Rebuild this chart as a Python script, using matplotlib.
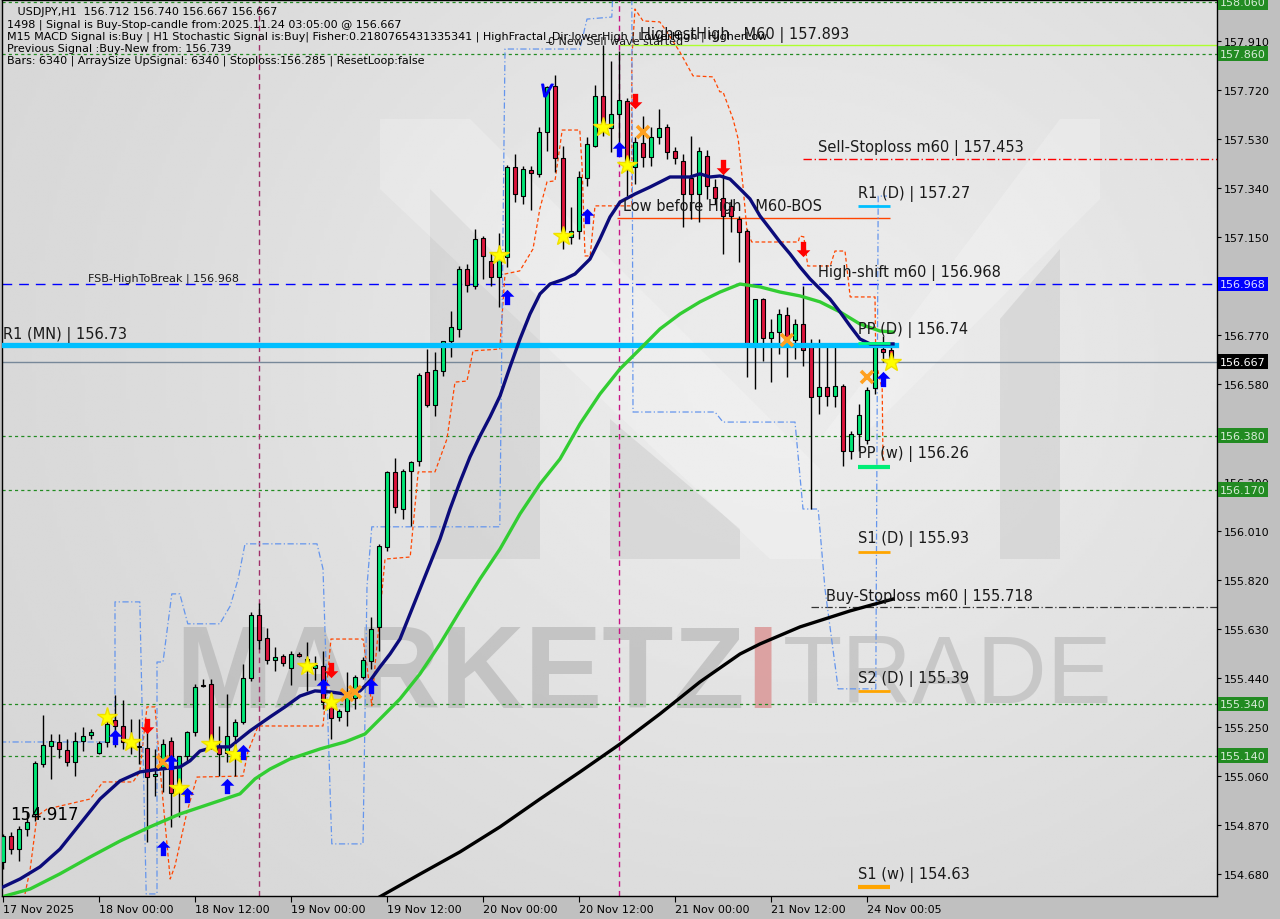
import matplotlib
matplotlib.use("Agg")
import matplotlib.pyplot as plt
import numpy as np
from matplotlib.patches import Polygon

# USDJPY H1 candles, 17 Nov 12:00 -> 24 Nov 03:00 (weekend removed)
opens = [154.728, 154.829, 154.778, 154.856, 154.914, 155.108, 155.178, 155.193, 155.162, 155.116,
         155.197, 155.220, 155.150, 155.193, 155.278, 155.255, 155.193, 155.174, 155.170, 155.061,
         155.088, 155.197, 155.023, 155.139, 155.232, 155.414, 155.418, 155.178, 155.150, 155.216,
         155.271, 155.441, 155.685, 155.596, 155.511, 155.527, 155.480, 155.534, 155.492, 155.480,
         155.488, 155.333, 155.290, 155.313, 155.364, 155.445, 155.507, 155.639, 155.949, 156.240,
         156.096, 156.244, 156.282, 156.627, 156.499, 156.631, 156.747, 156.794, 157.027, 156.961,
         157.147, 157.058, 156.996, 157.073, 157.422, 157.309, 157.410, 157.395, 157.558, 157.736,
         157.457, 157.151, 157.174, 157.379, 157.503, 157.697, 157.573, 157.627, 157.678, 157.422,
         157.515, 157.461, 157.538, 157.577, 157.484, 157.445, 157.379, 157.317, 157.465, 157.344,
         157.302, 157.271, 157.220, 157.174, 156.736, 156.910, 156.759, 156.782, 156.848, 156.751,
         156.813, 156.728, 156.534, 156.569, 156.534, 156.573, 156.321, 156.387, 156.364, 156.565,
         156.716, 156.712]
highs = [154.837, 154.844, 154.868, 154.922, 155.120, 155.298, 155.224, 155.224, 155.205, 155.232,
         155.251, 155.244, 155.197, 155.290, 155.375, 155.356, 155.282, 155.282, 155.236, 155.166,
         155.205, 155.212, 155.139, 155.236, 155.418, 155.437, 155.437, 155.255, 155.379, 155.282,
         155.495, 155.697, 155.732, 155.635, 155.561, 155.534, 155.546, 155.542, 155.581, 155.527,
         155.546, 155.379, 155.321, 155.464, 155.453, 155.523, 155.678, 155.961, 156.244, 156.294,
         156.251, 156.282, 156.623, 156.716, 156.705, 156.747, 156.864, 157.038, 157.046, 157.182,
         157.154, 157.092, 157.166, 157.430, 157.472, 157.426, 157.426, 157.577, 157.736, 157.778,
         157.503, 157.267, 157.406, 157.538, 157.740, 157.893, 157.833, 157.871, 157.690, 157.538,
         157.620, 157.577, 157.647, 157.589, 157.499, 157.472, 157.542, 157.499, 157.488, 157.375,
         157.395, 157.298, 157.232, 157.180, 156.910, 156.915, 156.833, 156.871, 156.879, 156.833,
         156.961, 156.755, 156.755, 156.728, 156.728, 156.581, 156.399, 156.503, 156.569, 156.736,
         156.767, 156.740]
lows = [154.701, 154.759, 154.732, 154.829, 154.887, 155.096, 155.050, 155.131, 155.100, 155.061,
        155.158, 155.205, 155.147, 155.174, 155.174, 155.166, 155.147, 155.108, 154.805, 154.984,
        154.999, 154.864, 154.902, 155.120, 155.216, 155.406, 155.166, 155.061, 155.116, 155.061,
        155.263, 155.430, 155.554, 155.495, 155.468, 155.488, 155.414, 155.523, 155.391, 155.433,
        155.321, 155.205, 155.275, 155.255, 155.321, 155.437, 155.476, 155.546, 155.933, 156.081,
        156.058, 156.030, 156.263, 156.492, 156.457, 156.612, 156.685, 156.763, 156.937, 156.949,
        156.988, 156.961, 156.879, 157.034, 157.286, 157.278, 157.255, 157.383, 157.484, 157.403,
        157.104, 157.123, 157.143, 157.348, 157.499, 157.542, 157.480, 157.465, 157.309, 157.356,
        157.422, 157.426, 157.511, 157.453, 157.433, 157.189, 157.220, 157.209, 157.298, 157.278,
        157.085, 157.170, 157.054, 156.608, 156.561, 156.670, 156.588, 156.697, 156.608, 156.678,
        156.651, 156.096, 156.465, 156.496, 156.492, 156.263, 156.290, 156.321, 156.348, 156.542,
        156.666, 156.667]
closes = [154.829, 154.778, 154.856, 154.883, 155.112, 155.182, 155.197, 155.166, 155.116, 155.197,
          155.216, 155.232, 155.189, 155.263, 155.255, 155.193, 155.174, 155.176, 155.057, 155.069,
          155.185, 154.995, 155.139, 155.232, 155.406, 155.410, 155.178, 155.147, 155.216, 155.271,
          155.441, 155.685, 155.588, 155.511, 155.523, 155.499, 155.534, 155.527, 155.515, 155.492,
          155.348, 155.286, 155.313, 155.368, 155.445, 155.511, 155.631, 155.953, 156.240, 156.104,
          156.244, 156.278, 156.616, 156.499, 156.635, 156.747, 156.802, 157.027, 156.965, 157.143,
          157.077, 156.996, 157.065, 157.422, 157.317, 157.414, 157.399, 157.558, 157.732, 157.457,
          157.174, 157.174, 157.383, 157.511, 157.697, 157.577, 157.627, 157.681, 157.422, 157.519,
          157.461, 157.538, 157.573, 157.480, 157.457, 157.317, 157.317, 157.484, 157.348, 157.302,
          157.232, 157.232, 157.170, 156.736, 156.910, 156.759, 156.782, 156.852, 156.751, 156.813,
          156.713, 156.530, 156.569, 156.534, 156.573, 156.321, 156.387, 156.461, 156.557, 156.724,
          156.705, 156.667]

tick_bars = [0, 12, 24, 36, 48, 60, 72, 84, 96, 108]
tick_labels = ["17 Nov 2025", "18 Nov 00:00", "18 Nov 12:00", "19 Nov 00:00", "19 Nov 12:00",
               "20 Nov 00:00", "20 Nov 12:00", "21 Nov 00:00", "21 Nov 12:00", "24 Nov 00:05"]
price_ticks = [157.910, 157.720, 157.530, 157.340, 157.150, 156.770, 156.580, 156.200,
               156.010, 155.820, 155.630, 155.440, 155.250, 155.060, 154.870, 154.680]

# moving averages (read at sample bars)
navy_x = [0, 2.125, 4.625, 7.125, 9.625, 12.125, 14.625, 17.125, 19.625, 22.125, 23.375, 24.625,
          26.5, 28.375, 29.625, 30.875, 32.125, 33.375, 35.25, 37.125, 39, 40.875, 42.75, 44.625,
          45.875, 47.125, 48.375, 49.625, 50.875, 52.125, 53.375, 54.625, 55.875, 57.125, 58.375,
          59.625, 60.875, 62.125, 63.375, 64.625, 65.875, 67.125, 68.375, 70.25, 71.5, 73.375,
          74.625, 75.875, 77.125, 79, 80.875, 83.375, 85.875, 87.125, 88.375, 89.625, 90.875,
          92.125, 93.375, 94.625, 95.875, 97.125, 98.375, 99.625, 100.875, 102.125, 103.375,
          104.625, 105.875, 107.125, 108.375, 111.25]
navy_y = [154.631, 154.662, 154.709, 154.778, 154.875, 154.972, 155.042, 155.077, 155.088, 155.096,
          155.120, 155.158, 155.174, 155.174, 155.205, 155.236, 155.263, 155.290, 155.329, 155.371,
          155.391, 155.387, 155.379, 155.391, 155.430, 155.484, 155.534, 155.592, 155.689, 155.786,
          155.883, 155.980, 156.096, 156.201, 156.298, 156.379, 156.453, 156.534, 156.647, 156.755,
          156.852, 156.930, 156.968, 156.988, 157.007, 157.065, 157.143, 157.228, 157.286, 157.317,
          157.344, 157.383, 157.383, 157.395, 157.383, 157.387, 157.375, 157.337, 157.298, 157.232,
          157.182, 157.131, 157.085, 157.034, 156.988, 156.949, 156.910, 156.860, 156.806, 156.755,
          156.736, 156.736]
green_x = [0.25, 3.375, 7.125, 10.875, 14.625, 18.375, 22.125, 25.875, 29.625, 31.5, 33.375, 35.875,
           39.625, 42.75, 45.25, 47.125, 49.625, 52.125, 54.625, 57.125, 59.625, 62.125, 64.625,
           67.125, 69.625, 72.125, 74.625, 77.125, 79.625, 82.125, 84.625, 87.125, 89.625, 92.125,
           94.625, 97.125, 99.625, 102.125, 104.625, 107.125, 109.625, 111.25]
green_y = [154.596, 154.623, 154.682, 154.747, 154.809, 154.864, 154.914, 154.953, 154.992, 155.050,
           155.088, 155.127, 155.166, 155.193, 155.224, 155.282, 155.360, 155.457, 155.573, 155.701,
           155.825, 155.941, 156.077, 156.193, 156.290, 156.426, 156.542, 156.639, 156.716, 156.794,
           156.852, 156.899, 156.937, 156.968, 156.957, 156.937, 156.922, 156.899, 156.860, 156.813,
           156.786, 156.782]
black_x = [45.5, 52.125, 57.125, 62.125, 67.125, 72.125, 77.125, 82.125, 87.125, 92.125, 94.625,
           99.625, 105.875, 111.25]
black_y = [154.565, 154.681, 154.767, 154.864, 154.972, 155.077, 155.185, 155.302, 155.426, 155.534,
           155.573, 155.639, 155.701, 155.747]

# fractal channel lines
hi_x = [2.75, 3.4, 4.25, 5.5, 10.9, 12.5, 16.25, 17.1, 18, 19, 19.6, 20.9, 21.5, 23, 24.25, 30, 30.6,
        31.9, 40, 41, 45, 45.5, 46.1, 46.5, 46.9, 47.75, 50.9, 51.9, 54, 55.5, 56.5, 58, 58.75, 62.1,
        62.75, 64.6, 66.25, 67.1, 68, 69, 69.9, 72.1, 72.4, 72.75, 73.4, 74, 78.6, 78.6, 79, 80, 82.1,
        83, 84.6, 86.25, 88.75, 89.6, 90, 91.25, 91.9, 92.5, 93, 93.6, 99.4, 99.6, 100.1, 100.6,
        103.4, 104, 105.25, 105.9, 109, 109.1, 109.9, 110]
hi_y = [154.604, 154.701, 154.906, 154.933, 154.972, 155.038, 155.038, 155.077, 155.329, 155.329,
        155.100, 154.662, 154.713, 154.922, 155.057, 155.061, 155.154, 155.255, 155.255, 155.592,
        155.592, 155.488, 155.333, 155.488, 155.619, 155.902, 155.910, 156.240, 156.240, 156.368,
        156.588, 156.592, 156.709, 156.716, 157.007, 157.019, 157.104, 157.259, 157.364, 157.368,
        157.565, 157.565, 157.414, 157.077, 157.077, 157.271, 157.271, 157.840, 158.034, 157.988,
        157.984, 157.945, 157.868, 157.775, 157.771, 157.713, 157.713, 157.608, 157.530, 157.348,
        157.174, 157.131, 157.131, 157.154, 157.151, 157.038, 157.038, 157.096, 157.096, 156.918,
        156.918, 156.666, 156.561, 156.278]
lo_x = [-0.375, 14, 14, 17.1, 17.9, 19.25, 19.25, 20, 21.1, 22.1, 23.1, 27.1, 28.4, 29.4, 30.25,
        39.25, 40, 41.1, 45, 45.5, 46.1, 62.1, 62.75, 72.1, 73, 76.1, 76.25, 78.6, 78.75, 89, 90, 99,
        100, 101.9, 102.75, 104.4, 109.1, 109.4, 110.5]
lo_y = [155.193, 155.193, 155.736, 155.736, 154.604, 154.604, 155.503, 155.503, 155.767, 155.767,
        155.651, 155.651, 155.720, 155.825, 155.961, 155.961, 155.864, 154.798, 154.798, 155.798,
        156.027, 156.027, 157.879, 157.879, 157.995, 158.003, 158.112, 158.112, 156.472, 156.472,
        156.433, 156.433, 156.096, 156.096, 155.786, 155.399, 155.399, 157.309, 157.309]

# levels
green_levels = [158.060, 157.860, 156.380, 156.170, 155.340, 155.140]
fsb_level = 156.968
r1_mn = 156.73
last_price = 156.667
sell_sl = 157.453
buy_sl = 155.718
low_before_high = 157.224
highest_high = 157.893
pivot_names = ["R1 (D)", "PP (D)", "PP (w)", "S1 (D)", "S2 (D)", "S1 (w)"]
pivot_values = [157.27, 156.74, 156.26, 155.93, 155.39, 154.63]

# signal markers
star_bars = [13, 16, 22, 26, 29, 38, 41, 62, 70, 75, 78, 111]
star_prices = [155.290, 155.193, 155.015, 155.185, 155.147, 155.488, 155.348, 157.081, 157.155,
               157.577, 157.430, 156.666]
up_bars = [14, 20, 21, 23, 28, 30, 40, 46, 63, 73, 77, 110]
up_prices = [155.213, 154.782, 155.116, 154.988, 155.023, 155.155, 155.410, 155.410, 156.918,
             157.232, 157.492, 156.600]
down_bars = [18, 41, 79, 90, 100]
down_prices = [155.255, 155.472, 157.678, 157.422, 157.104]
cross_bars = [20, 43, 44, 80, 98, 108]
cross_prices = [155.116, 155.375, 155.387, 157.558, 156.751, 156.608]

info_lines = [
    "   USDJPY,H1  156.712 156.740 156.667 156.667",
    "1498 | Signal is Buy-Stop-candle from:2025.11.24 03:05:00 @ 156.667",
    "M15 MACD Signal is:Buy | H1 Stochastic Signal is:Buy| Fisher:0.2180765431335341 | HighFractal_Dir:lowerHigh | LowerHigh | HigherLow",
    "Previous Signal :Buy-New from: 156.739",
    "Bars: 6340 | ArraySize UpSignal: 6340 | Stoploss:156.285 | ResetLoop:false",
]

UP_ARROW = [(0, 1), (-0.9, 0.1), (-0.35, 0.1), (-0.35, -1), (0.35, -1), (0.35, 0.1), (0.9, 0.1), (0, 1)]
DOWN_ARROW = [(x, -y) for x, y in UP_ARROW]


def px(x, y):
    # pixel of the 1280x920 picture -> axes fraction
    return (x - 2) / 1215.0, 1 - (y - 1) / 896.0


def main():
    plt.rcParams['font.family'] = ['DejaVu Sans']
    fig = plt.figure(figsize=(12.8, 9.2), dpi=100, facecolor='#c0c0c0')
    ax = fig.add_axes([2 / 1280, 23 / 920, 1215 / 1280, 896 / 920])
    ax.set_xlim(-0.125, 151.75)
    ax.set_ylim(154.596, 158.069)

    # background gradient + watermark
    gx, gy = np.meshgrid(np.linspace(0, 1, 300), np.linspace(0, 1, 300))
    g = np.exp(-(((gx - 0.65) / 0.5) ** 2 + ((gy - 0.6) / 0.6) ** 2))
    ax.imshow(g, extent=[0, 1, 0, 1], transform=ax.transAxes, origin='lower', cmap='gray',
              vmin=-9.5, vmax=1.9, aspect='auto', zorder=0)
    dark = '#c6c6c6'
    for poly in ([(430, 190), (540, 300), (540, 560), (430, 560)],
                 [(610, 420), (740, 530), (740, 560), (610, 560)],
                 [(1000, 320), (1060, 250), (1060, 560), (1000, 560)]):
        ax.add_patch(Polygon([px(*p) for p in poly], closed=True, transform=ax.transAxes,
                             facecolor=dark, edgecolor='none', alpha=0.45, zorder=0.5))
    for poly in ([(380, 120), (470, 120), (820, 470), (820, 560), (770, 560), (380, 190)],
                 [(1060, 120), (1100, 120), (1100, 200), (860, 440), (820, 440)]):
        ax.add_patch(Polygon([px(*p) for p in poly], closed=True, transform=ax.transAxes,
                             facecolor='white', edgecolor='none', alpha=0.22, zorder=0.5))
    ax.text(*px(175, 678), "MARKETZ", transform=ax.transAxes, fontsize=84, fontweight='bold',
            family='Liberation Sans', color='#b4b4b4', alpha=0.65, va='center', ha='left', zorder=0.6)
    ax.text(*px(746, 678), "I", transform=ax.transAxes, fontsize=84, fontweight='bold',
            family='Liberation Sans', color='#d98c8c', alpha=0.75, va='center', ha='left', zorder=0.6)
    ax.text(*px(783, 678), "TRADE", transform=ax.transAxes, fontsize=70,
            family='Liberation Sans', color='#bcbcbc', alpha=0.7, va='center', ha='left', zorder=0.6)

    # horizontal levels
    for lv in green_levels:
        ax.axhline(lv, color='#228b22', lw=0.9, dashes=(2.5, 2.5), zorder=1)
    ax.axhline(fsb_level, color='#0000ff', lw=1.0, dashes=(7, 5), zorder=1)
    ax.axhline(last_price, color='#778899', lw=1.0, zorder=1)
    ax.hlines(sell_sl, 100, 152, color='#ff0000', lw=1.0, linestyles=(0, (6, 2, 1, 2)), zorder=1)
    ax.hlines(buy_sl, 101, 152, color='#333333', lw=0.9, linestyles=(0, (6, 2, 1, 2)), zorder=1)
    ax.hlines(low_before_high, 76.75, 110.9, color='#ff4500', lw=1.0, zorder=1)
    ax.hlines(highest_high, 77, 152, color='#adff2f', lw=1.0, zorder=1)
    ax.axvline(32, color='#a0306a', lw=1.0, dashes=(4, 3), zorder=1)
    ax.axvline(77, color='#c71585', lw=1.0, dashes=(4, 3), zorder=1)

    ax.plot(hi_x, hi_y, color='#ff4500', lw=0.9, dashes=(3, 2), zorder=2)
    ax.plot(lo_x, lo_y, color='#6495ed', lw=0.9, dashes=(5, 2, 1, 2), zorder=2)

    # candles
    x = np.arange(len(opens))
    o = np.array(opens)
    c = np.array(closes)
    up = c >= o
    ax.vlines(x, lows, highs, color='black', lw=1.0, zorder=3)
    body = np.maximum(np.abs(c - o), 0.004)
    ax.bar(x, body, bottom=np.minimum(o, c), width=0.62,
           color=np.where(up, '#00e676', '#dc143c'), edgecolor='black', linewidth=0.8, zorder=3.5)

    ax.axhline(r1_mn, xmax=(111.6 + 0.125) / 151.875, color='#00bfff', lw=3.8, zorder=4)
    ax.plot(black_x, black_y, color='black', lw=2.4, zorder=4)
    ax.plot(green_x, green_y, color='#32cd32', lw=2.4, zorder=4)
    ax.plot(navy_x, navy_y, color='#0b0b7a', lw=2.4, zorder=4.2)

    pivot_colors = ['#00bfff', '#00ff7f', '#00ee76', '#ffa500', '#ffa500', '#ffa500']
    pivot_lw = [2, 2, 3, 2, 2, 3]
    for name, val, col, lw in zip(pivot_names, pivot_values, pivot_colors, pivot_lw):
        ax.hlines(val, 106.9, 110.9, color=col, lw=lw, zorder=4.5)
        ax.annotate(f"{name} | {val:.2f}", (106.9, val), xytext=(0, 4), textcoords='offset points',
                    fontsize=10.5, va='bottom', ha='left', color='#1a1a1a', zorder=7)

    # signal markers
    ax.plot(star_bars, star_prices, ls='none', marker='*', ms=15, color='#ffff00',
            mec='#f0e000', zorder=6)
    ax.plot(cross_bars, cross_prices, ls='none', marker='x', ms=8, mew=2.6, color='#ffa020', zorder=6)
    ax.plot(up_bars, up_prices, ls='none', marker=UP_ARROW, ms=11, color='#0000ff', mew=0, zorder=6)
    ax.plot(down_bars, down_prices, ls='none', marker=DOWN_ARROW, ms=11, color='#ff0000', mew=0, zorder=6)
    ax.plot([68], [157.722], ls='none', marker='$V$', ms=9, color='#0000ff', zorder=6)

    # chart texts
    ax.text(0, 156.775, "R1 (MN) | 156.73", fontsize=10.5, va='center', ha='left', color='#1a1a1a', zorder=7)
    ax.text(10.6, 156.992, "FSB-HighToBreak | 156.968", fontsize=8, va='center', ha='left',
            color='#1a1a1a', zorder=7)
    ax.text(101.9, 157.499, "Sell-Stoploss m60 | 157.453", fontsize=10.5, va='center', ha='left',
            color='#1a1a1a', zorder=7)
    ax.text(101.9, 157.015, "High-shift m60 | 156.968", fontsize=10.5, va='center', ha='left',
            color='#1a1a1a', zorder=7)
    ax.text(102.9, 155.759, "Buy-Stoploss m60 | 155.718", fontsize=10.5, va='center', ha='left',
            color='#1a1a1a', zorder=7)
    ax.text(77.5, 157.271, "Low before High   M60-BOS", fontsize=10.5, va='center', ha='left',
            color='#1a1a1a', zorder=7)
    ax.text(79.6, 157.937, "HighestHigh   M60 | 157.893", fontsize=10.5, va='center', ha='left',
            color='#1a1a1a', zorder=7)
    ax.text(68.1, 157.910, "0 New Sell wave started", fontsize=8, va='center', ha='left',
            color='#1a1a1a', zorder=7)
    ax.text(0.9, 154.914, "154.917", fontsize=12, va='center', ha='left', color='black', zorder=7)

    ys = [12, 25, 37, 49, 61]
    for line, y in zip(info_lines, ys):
        ax.text(*px(7, y), line, transform=ax.transAxes, fontsize=8, va='center', ha='left',
                color='black', zorder=8)

    # axes
    ax.yaxis.tick_right()
    ax.set_yticks(price_ticks)
    ax.set_yticklabels([f"{v:.3f}" for v in price_ticks])
    ax.tick_params(axis='y', direction='out', length=3, pad=2, labelsize=8, colors='black')
    ax.set_xticks(tick_bars)
    ax.set_xticklabels(tick_labels)
    ax.tick_params(axis='x', direction='out', length=4, pad=2, labelsize=8, colors='black')
    for t in ax.get_xticklabels():
        t.set_ha('left')
    for s in ax.spines.values():
        s.set_color('black')
        s.set_linewidth(1.0)

    tr = ax.get_yaxis_transform()
    boxes = [(158.060, '#228b22', '#d8ecd8'), (157.860, '#228b22', '#d8ecd8'),
             (fsb_level, '#0000ff', '#e0e0ff'), (last_price, '#000000', '#ffffff'),
             (156.380, '#228b22', '#d8ecd8'), (156.170, '#228b22', '#d8ecd8'),
             (155.340, '#228b22', '#d8ecd8'), (155.140, '#228b22', '#d8ecd8')]
    for val, fc, tc in boxes:
        ax.text(1.0025, val, f"{val:.3f}", transform=tr, fontsize=8, color=tc, va='center',
                ha='left', clip_on=False, zorder=9,
                bbox=dict(boxstyle='square,pad=0.22', facecolor=fc, edgecolor='none'))

    fig.savefig("out.png", dpi=100, facecolor=fig.get_facecolor())


if __name__ == "__main__":
    main()
